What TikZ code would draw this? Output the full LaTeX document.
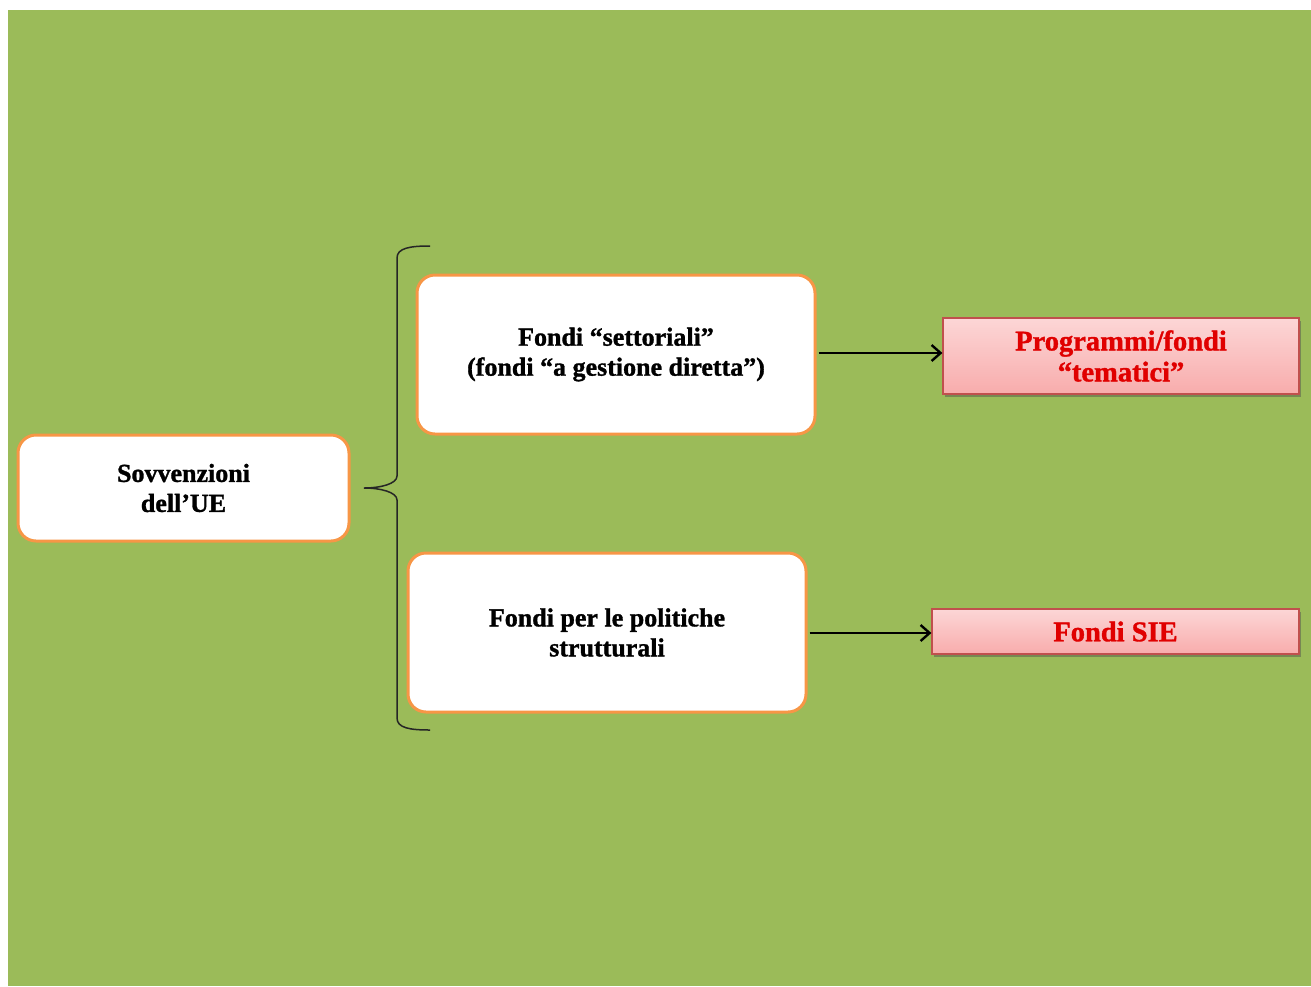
\documentclass[tikz,border=0pt]{standalone}
\usepackage{fontspec}
\setmainfont{Liberation Serif}[BoldFeatures={FakeBold=1.2}]
\usetikzlibrary{arrows.meta,shadows}
\definecolor{bggreen}{HTML}{9BBB59}
\definecolor{boxorange}{HTML}{F79646}
\definecolor{pinkborder}{HTML}{C0504D}
\definecolor{redtext}{HTML}{E00000}
\tikzset{
  whitebox/.style={draw=boxorange, line width=3pt, fill=white, rounded corners=18pt,
    align=center, font=\fontsize{26}{30}\selectfont\bfseries, text=black, inner sep=0pt},
  pinkbox/.style={draw=pinkborder, line width=1.2pt, top color={rgb,255:red,252;green,214;blue,214},
    bottom color={rgb,255:red,248;green,172;blue,172},
    drop shadow={opacity=0.45, shadow xshift=2pt, shadow yshift=-3pt, fill=black!70},
    align=center, font=\fontsize{28.5}{31}\selectfont\bfseries, text=redtext, inner sep=0pt},
  conn/.style={line width=2.4pt, -{Straight Barb[length=9pt,width=16pt,line width=2.4pt]}, shorten <=2pt},
  bracestyle/.style={line width=1.5pt, black!85}
}
\begin{document}
\begin{tikzpicture}[x=1pt,y=-1pt]
\useasboundingbox (0,0) rectangle (1311,986);
\fill[white] (0,0) rectangle (1311,986);
\fill[bggreen] (8,10) rectangle (1311,986);

\node[whitebox, minimum width=331pt, minimum height=106pt] (sov) at (183.5,488) {Sovvenzioni\\dell’UE};
\node[whitebox, minimum width=398pt, minimum height=159pt] (set) at (616,354.5) {Fondi “settoriali”\\(fondi “a gestione diretta”)};
\node[whitebox, minimum width=398pt, minimum height=159pt] (pol) at (607,632.5) {Fondi per le politiche\\strutturali};
\node[pinkbox, minimum width=356pt, minimum height=76pt] (prog) at (1121,356) {Programmi/fondi\\“tematici”};
\node[pinkbox, minimum width=367pt, minimum height=45pt] (sie) at (1115.5,631.5) {Fondi SIE};

\draw[conn] (set.east |- 0,353) -- (prog.west |- 0,353);
\draw[conn] (pol.east |- 0,633) -- (sie.west |- 0,633);

\draw[bracestyle] (430,246) .. controls (410,246) and (397,248) .. (397,258)
  -- (397,476) .. controls (397,484) and (380,488) .. (364,488)
  .. controls (380,488) and (397,492) .. (397,500)
  -- (397,718) .. controls (397,728) and (410,730) .. (430,730);
\end{tikzpicture}
\end{document}
